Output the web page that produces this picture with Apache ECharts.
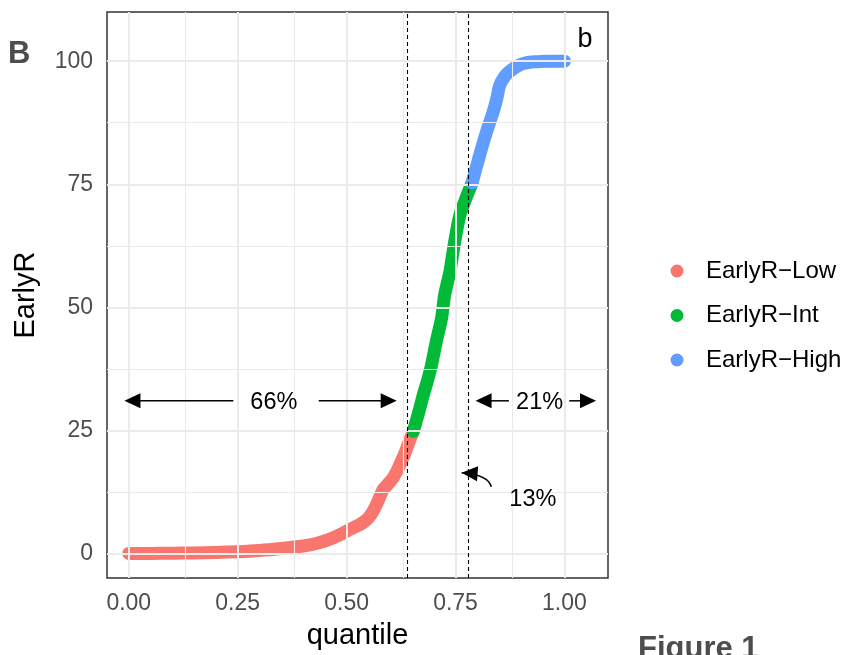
<!DOCTYPE html>
<html>
<head>
<meta charset="utf-8">
<script src="https://cdn.jsdelivr.net/npm/echarts@6/dist/echarts.min.js"></script>
<style>
  html, body { margin: 0; padding: 0; background: #ffffff; }
  #chart { width: 844px; height: 655px; }
</style>
</head>
<body>
<div id="chart"></div>
<script>
// ---------- data ----------
const seriesNames = ['EarlyR\u2212Low', 'EarlyR\u2212Int', 'EarlyR\u2212High'];
const seriesColors = ['#F8766D', '#00BA38', '#619CFF'];

const quantileLow = [0, 0.05, 0.10, 0.15, 0.20, 0.25, 0.30, 0.35, 0.40, 0.43, 0.462, 0.485, 0.508, 0.525, 0.538, 0.55, 0.561, 0.573, 0.584, 0.596, 0.607, 0.617, 0.626, 0.634, 0.641, 0.653];
const earlyRLow   = [0, 0, 0.05, 0.1, 0.2, 0.35, 0.6, 1.0, 1.5, 2.0, 2.9, 3.8, 4.9, 5.6, 6.3, 7.2, 8.6, 10.8, 13.0, 14.2, 15.4, 17.0, 18.8, 20.4, 22.1, 24.8];

const quantileInt = [0.653, 0.665, 0.676, 0.686, 0.695, 0.706, 0.718, 0.725, 0.737, 0.748, 0.760, 0.775, 0.788];
const earlyRInt   = [24.8, 28.5, 32.2, 35.2, 38.3, 43.1, 47.8, 52.5, 57.2, 63.3, 68.7, 72.4, 75.3];

const quantileHigh = [0.788, 0.805, 0.821, 0.836, 0.845, 0.851, 0.862, 0.874, 0.89, 0.905, 0.92, 0.935, 0.96, 1.0];
const earlyRHigh   = [75.3, 80.8, 85.6, 89.6, 92.5, 95.0, 96.8, 97.9, 98.9, 99.5, 99.8, 99.9, 100, 100];

const cutoffQuantiles = [0.639, 0.779];

const xTicks = [0, 0.25, 0.5, 0.75, 1];
const xMinorTicks = [0.125, 0.375, 0.625, 0.875];
const yTicks = [0, 25, 50, 75, 100];
const yMinorTicks = [12.5, 37.5, 62.5, 87.5];

// annotation arrows: start (x1,y1) -> tip (x2,y2), optional curve control (cx,cy)
const arrowX1 = [0.240, 0.436, 0.8725, 1.011, 0.832];
const arrowY1 = [31, 31, 31, 31, 13.5];
const arrowX2 = [-0.010, 0.615, 0.796, 1.0725, 0.764];
const arrowY2 = [31, 31, 31, 31, 16.4];
const arrowCX = [null, null, null, null, 0.826];
const arrowCY = [null, null, null, null, 16.0];

const labelTexts = ['66%', '21%', '13%'];
const labelX = [0.333, 0.943, 0.9275];
const labelY = [30.6, 30.6, 11.0];

const panelTag = 'b';
const panelTagX = 1.047;
const panelTagY = 104.5;

// ---------- build ----------
const zip = (a, b) => a.map((v, i) => [v, b[i]]);
const FONT = '"Liberation Sans", Arial, Helvetica, sans-serif';

const gridMajor = { color: '#EBEBEB', width: 2, type: 'solid' };
const gridMinor = { color: '#EBEBEB', width: 1.1, type: 'solid' };

function gridLineData() {
  const d = [];
  xMinorTicks.forEach(v => d.push({ xAxis: v, lineStyle: gridMinor }));
  yMinorTicks.forEach(v => d.push({ yAxis: v, lineStyle: gridMinor }));
  xTicks.forEach(v => d.push({ xAxis: v, lineStyle: gridMajor }));
  yTicks.forEach(v => d.push({ yAxis: v, lineStyle: gridMajor }));
  return d;
}

function dataSeries(name, color, q, v) {
  return {
    name: name,
    type: 'line',
    data: zip(q, v),
    showSymbol: false,
    symbol: 'circle',
    smooth: 0.25,
    z: 3,
    itemStyle: { color: color },
    lineStyle: { color: color, width: 13, cap: 'round', join: 'round' },
    emphasis: { disabled: true },
    silent: true
  };
}

function renderArrow(params, api) {
  const p1 = api.coord([api.value(0), api.value(1)]);
  const p2 = api.coord([api.value(2), api.value(3)]);
  const cxv = api.value(4), cyv = api.value(5);
  const curved = !(isNaN(cxv) || isNaN(cyv) || cxv === null || cyv === null);
  const c = curved ? api.coord([cxv, cyv]) : null;
  const from = curved ? c : p1;
  let dx = p2[0] - from[0], dy = p2[1] - from[1];
  const len = Math.hypot(dx, dy) || 1;
  dx /= len; dy /= len;
  const L = 16, W = 7.5;
  const base = [p2[0] - dx * L, p2[1] - dy * L];
  const head = [p2, [base[0] - dy * W, base[1] + dx * W], [base[0] + dy * W, base[1] - dx * W]];
  const children = [];
  if (curved) {
    children.push({
      type: 'bezierCurve',
      shape: { x1: p1[0], y1: p1[1], x2: p2[0], y2: p2[1], cpx1: c[0], cpy1: c[1] },
      style: { stroke: '#000', lineWidth: 1.5, fill: null }
    });
  } else {
    children.push({
      type: 'line',
      shape: { x1: p1[0], y1: p1[1], x2: base[0] + dx * 2, y2: base[1] + dy * 2 },
      style: { stroke: '#000', lineWidth: 1.5 }
    });
  }
  children.push({ type: 'polygon', shape: { points: head }, style: { fill: '#000' } });
  return { type: 'group', children: children };
}

function renderLabel(params, api) {
  const p = api.coord([api.value(0), api.value(1)]);
  const i = params.dataIndex;
  return {
    type: 'text', x: p[0], y: p[1],
    style: { text: labelTexts[i], fill: '#000', font: '23.5px ' + FONT, align: 'center', verticalAlign: 'middle' }
  };
}

function renderTag(params, api) {
  const p = api.coord([api.value(0), api.value(1)]);
  return {
    type: 'text', x: p[0], y: p[1],
    style: { text: panelTag, fill: '#000', font: '27px ' + FONT, align: 'center', verticalAlign: 'middle' }
  };
}

const chart = echarts.init(document.getElementById('chart'), null, { renderer: 'canvas' });

const option = {
  animation: false,
  backgroundColor: '#ffffff',
  textStyle: { fontFamily: FONT },
  grid: {
    left: 107, right: 236, top: 12, bottom: 75,
    show: true, borderColor: '#333333', borderWidth: 1.5, backgroundColor: '#ffffff',
    containLabel: false
  },
  legend: {
    orient: 'vertical',
    left: 665.5, top: 254,
    icon: 'circle',
    itemWidth: 48, itemHeight: 13,
    itemGap: 20.5,
    data: seriesNames,
    textStyle: { color: '#000', fontSize: 24, fontFamily: FONT },
    selectedMode: false
  },
  xAxis: {
    type: 'value', min: -0.05, max: 1.1,
    name: 'quantile', nameLocation: 'middle', nameGap: 43,
    nameTextStyle: { color: '#000', fontSize: 29, fontFamily: FONT },
    axisLine: { show: true, lineStyle: { color: '#333333', width: 1.5 } },
    axisTick: { show: true, length: 5, customValues: xTicks, lineStyle: { color: '#333333', width: 1.5 } },
    axisLabel: { show: true, customValues: xTicks, margin: 14.5, color: '#4D4D4D', fontSize: 23, fontFamily: FONT,
                 formatter: v => Number(v).toFixed(2) },
    splitLine: { show: false }
  },
  yAxis: {
    type: 'value', min: -5, max: 110,
    name: 'EarlyR', nameLocation: 'middle', nameGap: 67, nameRotate: 90,
    nameTextStyle: { color: '#000', fontSize: 29, fontFamily: FONT },
    axisLine: { show: true, lineStyle: { color: '#333333', width: 1.5 } },
    axisTick: { show: true, length: 5, customValues: yTicks, lineStyle: { color: '#333333', width: 1.5 } },
    axisLabel: { show: true, customValues: yTicks, margin: 14, color: '#4D4D4D', fontSize: 23, fontFamily: FONT,
                 formatter: v => String(Math.round(v)) },
    splitLine: { show: false }
  },
  graphic: [
    { type: 'text', x: 8, y: 54, z: 10,
      style: { text: 'B', font: 'bold 31px ' + FONT, fill: '#4D4D4D', align: 'left', verticalAlign: 'middle' } },
    { type: 'text', x: 638, y: 649, z: 10,
      style: { text: 'Figure 1', font: 'bold 31px ' + FONT, fill: '#4D4D4D', align: 'left', verticalAlign: 'middle' } }
  ],
  series: [
    {
      name: '__grid', type: 'scatter', data: [], z: 1, silent: true,
      markLine: {
        silent: true, symbol: ['none', 'none'], animation: false,
        label: { show: false }, emphasis: { disabled: true },
        data: gridLineData()
      }
    },
    dataSeries(seriesNames[0], seriesColors[0], quantileLow, earlyRLow),
    dataSeries(seriesNames[1], seriesColors[1], quantileInt, earlyRInt),
    dataSeries(seriesNames[2], seriesColors[2], quantileHigh, earlyRHigh),
    {
      name: '__cutoffs', type: 'scatter', data: [], z: 6, silent: true,
      markLine: {
        silent: true, symbol: ['none', 'none'], animation: false,
        label: { show: false }, emphasis: { disabled: true },
        lineStyle: { color: '#000', width: 1.1, type: [4, 3] },
        data: cutoffQuantiles.map(v => ({ xAxis: v }))
      }
    },
    {
      name: '__arrows', type: 'custom', z: 7, silent: true, clip: false,
      data: arrowX1.map((v, i) => [v, arrowY1[i], arrowX2[i], arrowY2[i],
                                   arrowCX[i] === null ? NaN : arrowCX[i],
                                   arrowCY[i] === null ? NaN : arrowCY[i]]),
      renderItem: renderArrow
    },
    {
      name: '__labels', type: 'custom', z: 7, silent: true, clip: false,
      data: zip(labelX, labelY),
      renderItem: renderLabel
    },
    {
      name: '__tag', type: 'custom', z: 7, silent: true, clip: false,
      data: [[panelTagX, panelTagY]],
      renderItem: renderTag
    }
  ]
};

chart.setOption(option);
</script>
</body>
</html>
